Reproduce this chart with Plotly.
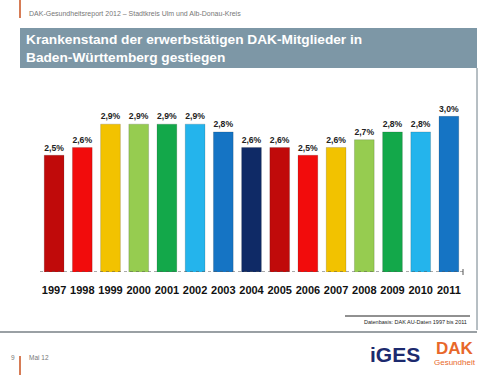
import plotly.graph_objects as go

years = ["1997", "1998", "1999", "2000", "2001", "2002", "2003", "2004",
         "2005", "2006", "2007", "2008", "2009", "2010", "2011"]
values = [2.5, 2.6, 2.9, 2.9, 2.9, 2.9, 2.8, 2.6, 2.6, 2.5, 2.6, 2.7, 2.8, 2.8, 3.0]
labels = [f"{v:.1f}%".replace(".", ",") for v in values]
palette = ["#c00a0a", "#f20c0c", "#f2c200", "#96cc50", "#13a84a", "#24b4ec", "#1574c4", "#0f2a66"]
colors = [palette[i % 8] for i in range(len(years))]

FONT = "Liberation Sans, Arial, sans-serif"
PW, PH = 423, 179.4  # plot area size in px

fig = go.Figure()
fig.add_trace(go.Bar(
    x=years, y=values, width=0.7,
    marker=dict(color=colors, line=dict(color="rgba(0,0,0,0.25)", width=0.6)),
    text=labels, textposition="outside", cliponaxis=False,
    textfont=dict(family=FONT, size=10, color="#222222", weight="bold"),
    hoverinfo="skip",
))

def pline(xa, ya, x0, x1, y0, y1, color, width, dash="solid"):
    return dict(type="line", xref="paper", yref="paper", xsizemode="pixel", ysizemode="pixel",
                xanchor=xa, yanchor=ya, x0=x0, x1=x1, y0=y0, y1=y1,
                line=dict(color=color, width=width, dash=dash))

fig.update_layout(
    width=500, height=375,
    margin=dict(l=40, r=37, t=93, b=103, autoexpand=False),
    paper_bgcolor="white", plot_bgcolor="white",
    showlegend=False,
    xaxis=dict(
        type="category", range=[-0.5, 14.5], showgrid=False, zeroline=False,
        showline=False, ticks="outside", ticklen=8, tickcolor="rgba(0,0,0,0)",
        tickfont=dict(family=FONT, size=11, color="#111111", weight="bold"),
        automargin=False,
    ),
    yaxis=dict(range=[1.0, 3.3], visible=False, showgrid=False, zeroline=False),
    shapes=[
        # title bar
        dict(type="rect", xref="paper", yref="paper", xsizemode="pixel", ysizemode="pixel",
             xanchor=0, yanchor=1, x0=-20, x1=437, y0=25, y1=65,
             fillcolor="#7d97a6", line=dict(width=0), layer="below"),
        # baseline (dotted)
        dict(type="line", xref="paper", yref="y", x0=0, x1=1, y0=1.0, y1=1.0,
             line=dict(color="#555555", width=1, dash="dot")),
        pline(1, 0, 0, 0, -3, 3, "#555555", 1),
        # right border of chart frame
        pline(1, 0, 14, 14, -58, 204, "#6f7f88", 1),
        # bottom frame line
        pline(0, 0, -40, 437, -60, -60, "#9aa0a4", 2),
        # source note line
        pline(1, 0, -118, 7, -44, -44, "#222222", 1),
        # orange header/footer markers
        pline(0, 1, -20, -20, 93, 75, "#c8501e", 1.5),
        pline(0, 0, -20, -20, -84, -103, "#c8501e", 1.5),
    ],
)

ann = []
ann.append(dict(text="DAK-Gesundheitsreport 2012 – Stadtkreis Ulm und Alb-Donau-Kreis",
                xref="paper", yref="paper", x=-13 / PW, y=1 + 79 / PH,
                xanchor="left", yanchor="middle", showarrow=False,
                font=dict(family=FONT, size=7, color="#777777")))
ann.append(dict(text="<b>Krankenstand der erwerbstätigen DAK-Mitglieder in<br>Baden-Württemberg gestiegen</b>",
                xref="paper", yref="paper", x=-16 / PW, y=1 + 45 / PH,
                xanchor="left", yanchor="middle", align="left", showarrow=False,
                font=dict(family=FONT, size=13.7, color="white")))
ann.append(dict(text="Datenbasis: DAK AU-Daten 1997 bis 2011",
                xref="paper", yref="paper", x=1 + 6 / PW, y=-50 / PH,
                xanchor="right", yanchor="middle", showarrow=False,
                font=dict(family=FONT, size=5.5, color="#222222")))
ann.append(dict(text="9", xref="paper", yref="paper", x=-27 / PW, y=-86 / PH,
                xanchor="center", yanchor="middle", showarrow=False,
                font=dict(family=FONT, size=6.5, color="#777777")))
ann.append(dict(text="Mai 12", xref="paper", yref="paper", x=-13 / PW, y=-86 / PH,
                xanchor="left", yanchor="middle", showarrow=False,
                font=dict(family=FONT, size=6.5, color="#777777")))
ann.append(dict(text="<b>iGES</b>", xref="paper", yref="paper", x=355 / PW, y=-83 / PH,
                xanchor="center", yanchor="middle", showarrow=False,
                font=dict(family=FONT, size=21, color="#1c2a6e")))
ann.append(dict(text="<b>DAK</b>", xref="paper", yref="paper", x=415 / PW, y=-77 / PH,
                xanchor="center", yanchor="middle", showarrow=False,
                font=dict(family=FONT, size=17, color="#e8682a")))
ann.append(dict(text="Gesundheit", xref="paper", yref="paper", x=415 / PW, y=-91 / PH,
                xanchor="center", yanchor="middle", showarrow=False,
                font=dict(family=FONT, size=8, color="#e8682a")))
fig.update_layout(annotations=ann)

fig.write_html("out.html", config={"displayModeBar": False},
               post_script="document.body.style.margin='0px';")
